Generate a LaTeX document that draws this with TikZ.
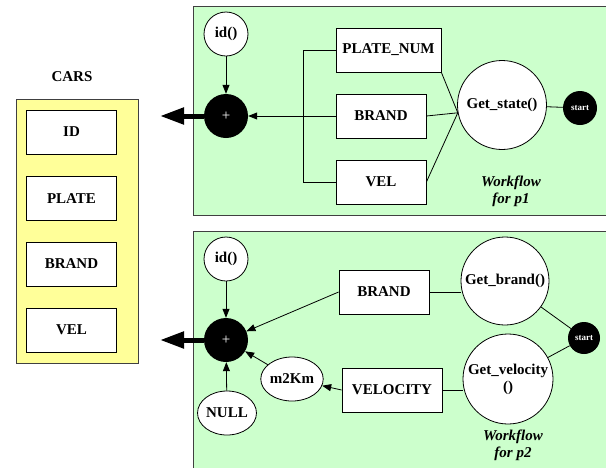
\documentclass[tikz,border=0pt]{standalone}
\usepackage{fontspec}
\setmainfont{Liberation Serif}
\usetikzlibrary{arrows.meta,shapes.geometric}
\definecolor{panelgreen}{RGB}{204,255,204}
\definecolor{tableyellow}{RGB}{255,255,153}
\tikzset{
  txt/.style={font=\fontsize{15}{17}\selectfont\bfseries},
  field/.style={txt, draw, fill=white, line width=0.8pt, minimum width=90pt, minimum height=44pt, inner sep=0pt},
  func/.style={txt, draw, circle, fill=white, line width=0.8pt, inner sep=0pt},
  oval/.style={txt, draw, ellipse, fill=white, line width=0.8pt, inner sep=0pt},
  sumnode/.style={circle, fill=black, minimum size=44pt, inner sep=0pt, text=white, font=\fontsize{15}{17}\selectfont},
  startnode/.style={circle, fill=black, minimum size=34pt, inner sep=0pt, text=white, font=\fontsize{9}{10}\selectfont\bfseries},
  flow/.style={line width=0.8pt, -{Triangle[length=9pt,width=7pt]}},
  bigflow/.style={line width=5pt, -{Triangle[length=24pt,width=16pt]}},
  panel/.style={draw=black!75, fill=panelgreen, line width=1pt},
  note/.style={font=\fontsize{15}{17}\selectfont\bfseries\itshape, align=center}
}
\begin{document}
\begin{tikzpicture}[x=1pt,y=-1pt]
\useasboundingbox (0,0) rectangle (606,467);
% panels
\draw[panel] (193,6) rectangle (612,215);
\draw[panel] (193,231) rectangle (612,475);
\draw[draw=black!75, fill=tableyellow, line width=1pt] (16,99) rectangle (138,363);
% table
\node[txt] (cars) at (72,77) {CARS};
\node[field] (tid) at (71.5,132) {ID};
\node[field] (tplate) at (71.5,198.5) {PLATE};
\node[field] (tbrand) at (71.5,264) {BRAND};
\node[field] (tvel) at (71.5,330) {VEL};
% workflow p1
\node[func, minimum size=44pt] (id1) at (226,34) {id()};
\node[sumnode] (plus1) at (226,116) {+};
\node[field, minimum width=105pt] (plate1) at (388.5,50) {PLATE\_NUM};
\node[field] (brand1) at (381,116) {BRAND};
\node[field] (vel1) at (381,182) {VEL};
\node[func, minimum size=89pt] (state) at (502,105) {Get\_state()};
\node[startnode] (start1) at (580,108) {start};
\node[note] (wf1) at (511,191) {Workflow\\for p1};
\coordinate (fork1) at (303,116);
\coordinate (out1) at (160,116);
\draw[line width=0.8pt] (plate1.west) -| (fork1);
\draw[line width=0.8pt] (vel1.west) -| (fork1);
\draw[line width=0.8pt] (brand1.west) -- (fork1);
\draw[flow] (fork1) -- (plus1);
\draw[flow] (id1) -- (plus1);
\draw[bigflow] (plus1.west) -- (out1);
\draw[line width=0.8pt] (plate1.south east) -- (state.190);
\draw[line width=0.8pt] (brand1.east) -- (state.190);
\draw[line width=0.8pt] (vel1.east) -- (state.190);
\draw[line width=0.8pt] (state) -- (start1);
% workflow p2
\node[func, minimum size=44pt] (id2) at (226,259) {id()};
\node[sumnode] (plus2) at (226,340) {+};
\node[oval, minimum width=49pt, minimum height=44pt] (null) at (227,413) {NULL};
\node[oval, minimum width=54pt, minimum height=44pt] (m2km) at (292,379) {m2Km};
\node[field] (brand2) at (384,292) {BRAND};
\node[field, minimum width=100pt] (velocity) at (392,390) {VELOCITY};
\node[func, minimum size=88pt] (getbrand) at (505,281) {Get\_brand()};
\node[func, minimum size=90pt, align=center] (getvel) at (508,379) {Get\_velocity\\()};
\node[startnode, minimum size=32pt] (start2) at (584,338) {start};
\node[note] (wf2) at (513,445) {Workflow\\for p2};
\coordinate (out2) at (160,340);
\draw[flow] (id2) -- (plus2);
\draw[flow] (null) -- (plus2);
\draw[flow] (m2km) -- (plus2);
\draw[flow] (brand2.west) -- (plus2);
\draw[flow] (velocity.west) -- (m2km);
\draw[bigflow] (plus2.west) -- (out2);
\draw[line width=0.8pt] (brand2.east) -- (getbrand.west |- brand2.east);
\draw[line width=0.8pt] (velocity.east) -- (getvel.west |- velocity.east);
\draw[line width=0.8pt] (getbrand) -- (start2);
\draw[line width=0.8pt] (getvel) -- (start2);
\end{tikzpicture}
\end{document}
